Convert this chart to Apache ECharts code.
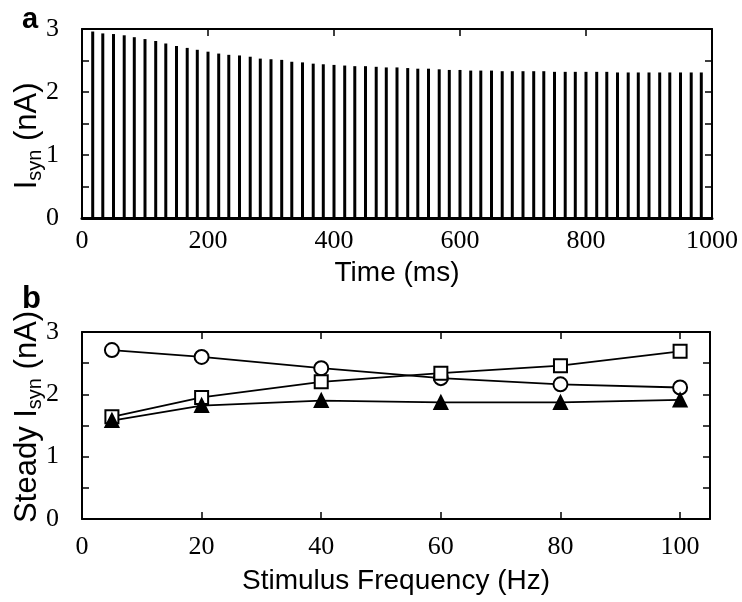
<!DOCTYPE html>
<html>
<head>
<meta charset="utf-8">
<script src="https://cdn.jsdelivr.net/npm/echarts@6/dist/echarts.min.js"></script>
<style>
  html, body { margin: 0; padding: 0; background: #fff; }
  #chart { width: 742px; height: 602px; }
</style>
</head>
<body>
<div id="chart"></div>
<script>
// panel a: stimulus times (ms) and peak synaptic current (nA)
const spikeTimes = [17, 33, 50, 67, 83, 100, 117, 133, 150, 167, 183, 200, 217, 233, 250,
  267, 283, 300, 317, 333, 350, 367, 383, 400, 417, 433, 450, 467, 483, 500, 517, 533,
  550, 567, 583, 600, 617, 633, 650, 667, 683, 700, 717, 733, 750, 767, 783, 800, 817,
  833, 850, 867, 883, 900, 917, 933, 950, 967, 983];
const spikePeaks = [2.96, 2.93, 2.92, 2.90, 2.87, 2.84, 2.81, 2.77, 2.73, 2.70,
  2.67, 2.64, 2.61, 2.59, 2.58, 2.56, 2.53, 2.52, 2.51, 2.48,
  2.47, 2.45, 2.44, 2.43, 2.42, 2.41, 2.41, 2.40, 2.39, 2.39,
  2.38, 2.37, 2.37, 2.36, 2.35, 2.35, 2.34, 2.34, 2.34, 2.33,
  2.33, 2.33, 2.33, 2.33, 2.32, 2.32, 2.32, 2.32, 2.32, 2.32,
  2.31, 2.31, 2.31, 2.31, 2.31, 2.31, 2.31, 2.31, 2.31];

// panel b: steady current vs stimulus frequency
const freqs = [5, 20, 40, 60, 80, 100];
const circleVals = [2.71, 2.60, 2.42, 2.26, 2.16, 2.11];
const squareVals = [1.64, 1.95, 2.20, 2.34, 2.46, 2.69];
const triangleVals = [1.58, 1.82, 1.90, 1.87, 1.87, 1.91];

const serif = "Liberation Serif";
const sans = "Liberation Sans";
const black = "#000";

const tickLabel = {
  fontFamily: serif,
  fontSize: 26,
  color: black
};
// subscript: main text sits at the top of the line, "syn" at its bottom
const nameRich = {
  m: { fontFamily: sans, fontSize: 31, color: black, lineHeight: 31, verticalAlign: "top" },
  s: { fontFamily: sans, fontSize: 20, color: black, lineHeight: 20, verticalAlign: "bottom" },
  h: { fontSize: 1, lineHeight: 33 }
};

function bottomX(grid, min, max, interval, lineWidth, name, gap, margin, hideMax) {
  return {
    type: "value", gridIndex: grid, position: "bottom", min, max, interval,
    name, nameLocation: "middle", nameGap: gap,
    nameTextStyle: { fontFamily: sans, fontSize: 28, color: black },
    axisLine: { show: true, onZero: false, lineStyle: { color: black, width: lineWidth } },
    axisTick: { show: true, inside: true, length: 7, lineStyle: { color: black, width: 1.5 } },
    axisLabel: {
      ...tickLabel, margin,
      formatter: v => (hideMax && v > 100 ? "" : v)
    },
    splitLine: { show: false }
  };
}
function topX(grid, min, max, interval) {
  return {
    type: "value", gridIndex: grid, position: "top", min, max, interval,
    axisLine: { show: true, onZero: false, lineStyle: { color: black, width: 2 } },
    axisTick: { show: true, inside: true, length: 7, lineStyle: { color: black, width: 1.5 } },
    axisLabel: { show: false },
    splitLine: { show: false }
  };
}
function leftY(grid, name, pad) {
  return {
    type: "value", gridIndex: grid, position: "left", min: 0, max: 3, interval: 0.5,
    name, nameLocation: "middle", nameGap: 37, nameRotate: 90, nameMoveOverlap: false,
    nameTextStyle: { rich: nameRich, padding: pad },
    axisLine: { show: true, onZero: false, lineStyle: { color: black, width: 2 } },
    axisTick: { show: true, inside: true, length: 7, lineStyle: { color: black, width: 1.5 } },
    axisLabel: {
      ...tickLabel, margin: 23,
      formatter: v => (v % 1 === 0 ? v : "")
    },
    splitLine: { show: false }
  };
}
function rightY(grid) {
  return {
    type: "value", gridIndex: grid, position: "right", min: 0, max: 3, interval: 0.5,
    axisLine: { show: true, onZero: false, lineStyle: { color: black, width: 2 } },
    axisTick: { show: true, inside: true, length: 7, lineStyle: { color: black, width: 1.5 } },
    axisLabel: { show: false },
    splitLine: { show: false }
  };
}

function markerSeries(name, symbol, size, vals) {
  return {
    name, type: "line", xAxisIndex: 2, yAxisIndex: 2,
    data: freqs.map((f, i) => [f, vals[i]]),
    symbol, symbolSize: size, showAllSymbol: true,
    lineStyle: { color: black, width: 1.8 },
    itemStyle: { color: black, borderColor: black, borderWidth: 2 },
    z: 3
  };
}

const chart = echarts.init(document.getElementById("chart"), null, { renderer: "canvas" });
chart.setOption({
  animation: false,
  backgroundColor: "#fff",
  graphic: [
    { type: "text", left: 22, top: 5, style: { text: "a", fontFamily: sans, fontWeight: "bold", fontSize: 29, fill: black } },
    { type: "text", left: 22, top: 284, style: { text: "b", fontFamily: sans, fontWeight: "bold", fontSize: 31, fill: black } }
  ],
  grid: [
    { left: 82, top: 29, right: 30, height: 189, containLabel: false, outerBoundsMode: "none" },
    { left: 82, top: 332, right: 32, height: 187, containLabel: false, outerBoundsMode: "none" }
  ],
  xAxis: [
    bottomX(0, 0, 1000, 200, 3, "Time (ms)", 41, 10, false),
    topX(0, 0, 1000, 200),
    bottomX(1, 0, 105, 20, 2, "Stimulus Frequency (Hz)", 48, 15, true),
    topX(1, 0, 105, 20)
  ],
  yAxis: [
    leftY(0, "{h| }{m|I}{s|syn}{m| (nA)}", [0, 25, 0, 0]),
    rightY(0),
    leftY(1, "{h| }{m|Steady I}{s|syn}{m| (nA)}", [0, 0, 0, 17]),
    rightY(1)
  ],
  series: [
    {
      name: "Isyn", type: "bar", xAxisIndex: 0, yAxisIndex: 0,
      data: spikeTimes.map((t, i) => [t, spikePeaks[i]]),
      barWidth: 3,
      itemStyle: { color: black }
    },
    markerSeries("circle", "emptyCircle", 14, circleVals),
    markerSeries("square", "emptyRect", 13, squareVals),
    markerSeries("triangle", "triangle", 13, triangleVals)
  ]
});
</script>
</body>
</html>
